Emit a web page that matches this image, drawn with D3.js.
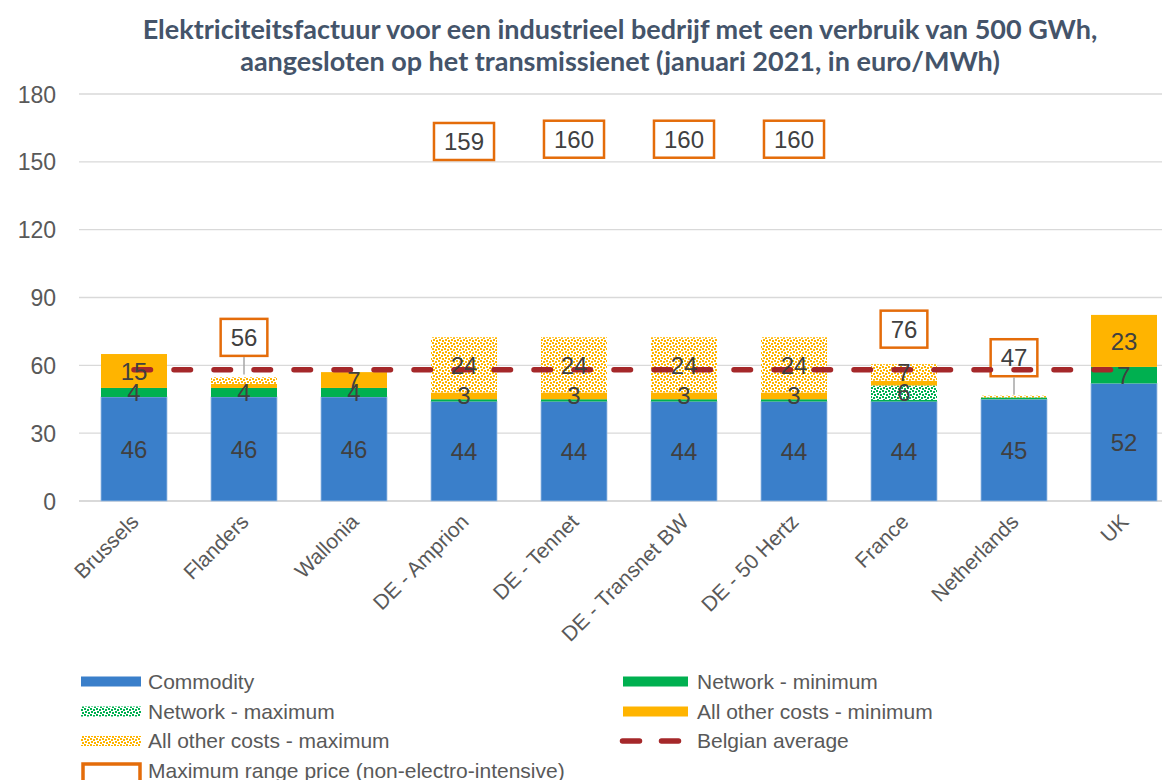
<!DOCTYPE html>
<html><head><meta charset="utf-8">
<script src="https://cdn.jsdelivr.net/npm/d3@7"></script>
<style>body{margin:0;background:#fff} svg{display:block}</style>
</head><body>
<svg id="chart" width="1162" height="780"></svg>
<script>
const categories = ["Brussels","Flanders","Wallonia","DE - Amprion","DE - Tennet","DE - Transnet BW","DE - 50 Hertz","France","Netherlands","UK"];
const commodity = [46,46,46,44,44,44,44,44,45,52];
const networkMin = [4,4,4,1,1,1,1,0.7,0.8,7.3];
const networkMax = [0,0,0,0,0,0,0,6.4,0,0];
const otherMin = [15,1.8,7,3,3,3,3,2.1,0,23];
const otherMax = [0,2.9,0,24.4,24.4,24.4,24.4,7.3,0.8,0];
const maxRangePrice = [null,56,null,159,160,160,160,76,47,null];
const belgianAverage = 58;
const yTicks = [0,30,60,90,120,150,180];
const titleLines = ["Elektriciteitsfactuur voor een industrieel bedrijf met een verbruik van 500 GWh,",
                    "aangesloten op het transmissienet (januari 2021, in euro/MWh)"];
const seriesNames = ["Commodity","Network - minimum","Network - maximum","All other costs - minimum","All other costs - maximum"];

const svg = d3.select("#chart");
const W = 1162, H = 780;
const FONT = "'Liberation Sans', Arial, sans-serif";
const col = {blue:"#3A7FCA", green:"#00B050", gold:"#FFB400", red:"#A5282A", box:"#E46C0A", grid:"#D9D9D9", text:"#404040", axis:"#595959"};

// patterns
const defs = svg.append("defs");
function dotPattern(id, color) {
  const p = defs.append("pattern").attr("id", id).attr("patternUnits","userSpaceOnUse")
    .attr("width", 6).attr("height", 6);
  p.append("rect").attr("width",6).attr("height",6).attr("fill","#fff");
  const dots = [[0,0],[3,1],[1,3],[4,4]];
  dots.forEach(([x,y]) => p.append("rect").attr("x",x).attr("y",y).attr("width",2).attr("height",2).attr("fill",color));
}
dotPattern("dotGreen", col.green);
dotPattern("dotGold", col.gold);
const fills = [col.blue, col.green, "url(#dotGreen)", col.gold, "url(#dotGold)"];

// title
svg.append("g").selectAll("text").data(titleLines).join("text")
  .attr("x", 620).attr("y", (d,i) => 39 + i*32)
  .attr("text-anchor","middle")
  .attr("font-family","Lato, 'Open Sans', sans-serif").attr("font-weight","bold")
  .attr("font-size", 27).attr("fill","#44546A")
  .text(d => d);

// scales
const x = d3.scaleBand().domain(categories).range([79, 1179]).paddingInner(0.4).paddingOuter(0.2);
const y = d3.scaleLinear().domain([0,180]).range([501, 94]);

// gridlines
svg.append("g").selectAll("line").data(yTicks).join("line")
  .attr("x1", 79).attr("x2", W).attr("y1", d => y(d)).attr("y2", d => y(d))
  .attr("stroke", col.grid).attr("stroke-width", d => d===0 ? 2 : 1.3);

// y axis labels
const yAxis = d3.axisLeft(y).tickValues(yTicks).tickSize(0).tickPadding(0);
const yg = svg.append("g").attr("transform","translate(56,0)").call(yAxis);
yg.select(".domain").remove();
yg.selectAll("text").attr("font-family",FONT).attr("font-size",23).attr("fill",col.axis).attr("dy","0.35em");

// stacked data
const rows = categories.map((c,i) => ({cat:c, s0:commodity[i], s1:networkMin[i], s2:networkMax[i], s3:otherMin[i], s4:otherMax[i]}));
const stack = d3.stack().keys(["s0","s1","s2","s3","s4"])(rows);

const barG = svg.append("g");
stack.forEach((layer, li) => {
  barG.append("g").selectAll("rect").data(layer.filter(d => d[1]-d[0] > 0)).join("rect")
    .attr("x", d => x(d.data.cat)).attr("width", x.bandwidth())
    .attr("y", d => y(d[1])).attr("height", d => y(d[0]) - y(d[1]))
    .attr("fill", fills[li])
    .attr("stroke", li===0 ? "#9DBDE3" : "none").attr("stroke-width", li===0 ? 0.8 : 0);
});

// max range price boxes
const labelShift = {"Flanders": 37, "Netherlands": 37};
const boxG = svg.append("g");
const boxData = categories.map((c,i) => ({cat:c, v:maxRangePrice[i]})).filter(d => d.v != null);
boxData.forEach(d => {
  const cx = x(d.cat) + x.bandwidth()/2;
  const py = y(d.v);
  const shift = labelShift[d.cat] || 0;
  const cy = py - shift;
  const g = boxG.append("g");
  const t = g.append("text").attr("x", cx).attr("y", cy).attr("dy","0.36em")
    .attr("text-anchor","middle").attr("font-family",FONT).attr("font-size",24).attr("fill",col.text)
    .text(d3.format("d")(d.v));
  const tw = t.node().getComputedTextLength();
  const bw = tw + 20, bh = 37;
  g.insert("rect","text").attr("x", cx - bw/2).attr("y", cy - bh/2).attr("width", bw).attr("height", bh)
    .attr("fill","none").attr("stroke", col.box).attr("stroke-width", 2.5);
  if (shift) {
    g.append("line").attr("x1",cx).attr("x2",cx).attr("y1", cy + bh/2 + 1).attr("y2", py)
      .attr("stroke","#A6A6A6").attr("stroke-width",1.5);
  }
});

// Belgian average line
const line = d3.line().x(d => x(d) + x.bandwidth()/2).y(() => y(belgianAverage));
svg.append("path").datum(categories).attr("d", line)
  .attr("fill","none").attr("stroke", col.red).attr("stroke-width", 5.5)
  .attr("stroke-dasharray","16.5 23.5").attr("stroke-linecap","round");

// segment labels
const lblG = svg.append("g");
stack.forEach((layer, li) => {
  lblG.append("g").selectAll("text").data(layer.filter(d => d[1]-d[0] >= 2.95)).join("text")
    .attr("x", d => x(d.data.cat) + x.bandwidth()/2)
    .attr("y", d => y((d[0]+d[1])/2)).attr("dy","0.36em")
    .attr("text-anchor","middle").attr("font-family",FONT).attr("font-size",24).attr("fill",col.text)
    .text(d => d3.format(".0f")(d[1]-d[0]));
});

// x axis labels
const xAxis = d3.axisBottom(x).tickSize(0).tickPadding(0);
const xg = svg.append("g").attr("transform","translate(0,501)").call(xAxis);
xg.select(".domain").remove();
xg.selectAll("text")
  .attr("font-family",FONT).attr("font-size",21).attr("fill",col.axis)
  .attr("text-anchor","end")
  .attr("transform","translate(6,22) rotate(-45)")
  .attr("dy","0").attr("y",0);

// legend
const legend = [
  {name:seriesNames[0], type:"rect", fill:fills[0], x:81, w:60, y:681.5},
  {name:seriesNames[2], type:"rect", fill:fills[2], x:81, w:60, y:711.5},
  {name:seriesNames[4], type:"rect", fill:fills[4], x:81, w:60, y:741},
  {name:"Maximum range price (non-electro-intensive)", type:"box", x:83, w:57, y:771},
  {name:seriesNames[1], type:"rect", fill:fills[1], x:623, w:65, y:681.5},
  {name:seriesNames[3], type:"rect", fill:fills[3], x:623, w:65, y:711.5},
  {name:"Belgian average", type:"dash", x:620, w:63, y:741}
];
const lg = svg.append("g");
legend.forEach(d => {
  if (d.type === "rect") {
    lg.append("rect").attr("x", d.x).attr("y", d.y - 5).attr("width", d.w).attr("height", 10).attr("fill", d.fill);
  } else if (d.type === "box") {
    lg.append("rect").attr("x", d.x).attr("y", d.y - 7).attr("width", d.w).attr("height", 18)
      .attr("fill","none").attr("stroke", col.box).attr("stroke-width", 3.5);
  } else {
    lg.append("line").attr("x1", d.x + 2.5).attr("x2", d.x + d.w).attr("y1", d.y).attr("y2", d.y)
      .attr("stroke", col.red).attr("stroke-width", 5.5).attr("stroke-linecap","round")
      .attr("stroke-dasharray","17 22");
  }
  lg.append("text").attr("x", d.x > 600 ? 697 : 148).attr("y", d.y).attr("dy","0.35em")
    .attr("font-family",FONT).attr("font-size",21).attr("fill",col.axis).text(d.name);
});
</script>
</body></html>
